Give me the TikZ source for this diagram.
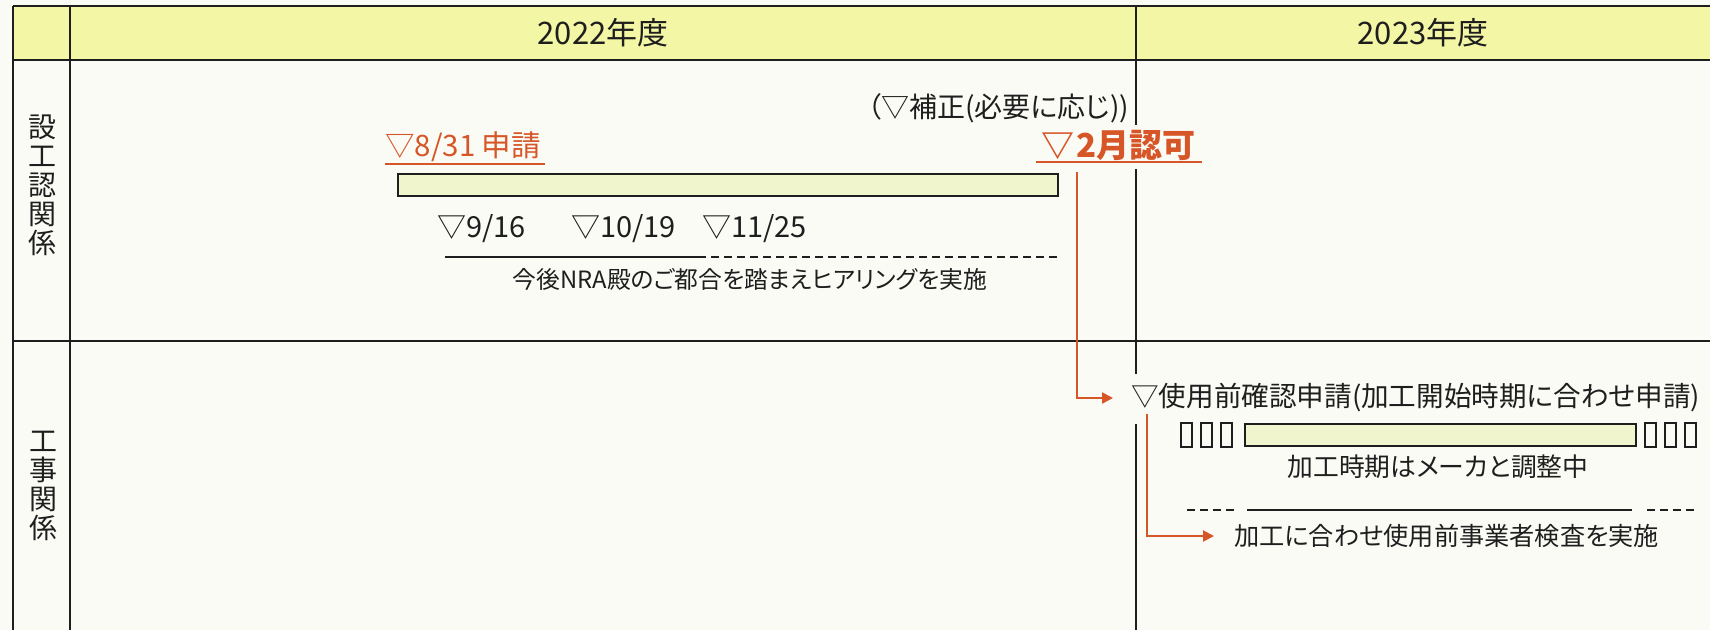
\documentclass[tikz,border=0pt]{standalone}
\usepackage{fontspec}
\setmainfont{Noto Sans CJK JP}[RawFeature={+palt}]
\usetikzlibrary{arrows.meta}
\definecolor{bgc}{RGB}{251,251,246}
\definecolor{hdrc}{RGB}{243,246,164}
\definecolor{barc}{RGB}{241,245,205}
\definecolor{orc}{RGB}{214,86,40}
\definecolor{inkc}{RGB}{30,30,30}
\newcommand{\myfs}[1]{\fontsize{#1}{#1}\selectfont}
\begin{document}
\begin{tikzpicture}[x=1pt,y=-1pt,
  gridline/.style={draw=inkc,line width=2.8pt},
  barbox/.style={draw=inkc,line width=2.2pt,fill=barc},
  minibox/.style={draw=inkc,line width=2pt},
  tline/.style={draw=inkc,line width=2.2pt},
  dline/.style={draw=inkc,line width=2.2pt,dash pattern=on 8pt off 5pt},
  oarrow/.style={draw=orc,line width=2.2pt,-{Triangle[length=11pt,width=11pt]}},
  oline/.style={draw=orc,line width=2pt},
  lbl/.style={inner sep=0pt,text=inkc},
  olbl/.style={inner sep=0pt,text=orc}]
\useasboundingbox (0,0) rectangle (1710,630);
\fill[bgc] (0,0) rectangle (1710,630);
\fill[hdrc] (13,6) rectangle (1710,60);
% grid
\draw[gridline] (13,6) -- (1710,6);
\draw[gridline] (13,60) -- (1710,60);
\draw[gridline] (13,341) -- (1710,341);
\draw[gridline] (13,6) -- (13,630);
\draw[gridline] (70,6) -- (70,630);
\draw[gridline] (1136,6) -- (1136,125);
\draw[gridline] (1136,169) -- (1136,374);
\draw[gridline] (1136,424) -- (1136,630);
% headers
\node[lbl,font=\myfs{31}] (y22) at (603,33) {2022年度};
\node[lbl,font=\myfs{31}] (y23) at (1423,33) {2023年度};
\node[lbl,font=\myfs{28},align=center] (rowA) at (42,185) {設\\[1pt]工\\[1pt]認\\[1pt]関\\[1pt]係};
\node[lbl,font=\myfs{28},align=center] (rowB) at (43,486) {工\\[1pt]事\\[1pt]関\\[1pt]係};
% row A
\node[lbl,font=\myfs{28},anchor=west] (hosei) at (867,108) {（▽補正(必要に応じ))};
\node[olbl,font=\myfs{33}\bfseries,anchor=west] (kyoka) at (1041,145) {▽\hspace{2pt}2月認可};
\draw[oline] (1036,162) -- (1202,162);
\node[olbl,font=\myfs{29.5},anchor=west] (shinsei) at (385,147) {▽8/31 申請};
\draw[oline] (385,164) -- (545,164);
\path[barbox] (398,174) rectangle (1058,196);
\node[lbl,font=\myfs{29},anchor=west] (d1) at (437,229) {▽9/16};
\node[lbl,font=\myfs{29},anchor=west] (d2) at (571,229) {▽10/19};
\node[lbl,font=\myfs{29},anchor=west] (d3) at (702,229) {▽11/25};
\draw[tline] (445,257) -- (698,257);
\draw[dline] (698,257) -- (1058,257);
\node[lbl,font=\myfs{23.8}] (hear) at (750,279) {今後NRA殿のご都合を踏まえヒアリングを実施};
% row B
\node[lbl,font=\myfs{27.6},anchor=west] (t1) at (1131,398) {▽使用前確認申請(加工開始時期に合わせ申請)};
\foreach \xx in {1181,1201,1221,1645,1665,1685}{
  \path[minibox] (\xx,423) rectangle ++(11,24);
}
\path[barbox] (1245,424) rectangle (1636,446);
\node[lbl,font=\myfs{25.8}] (t2) at (1438,467) {加工時期はメーカと調整中};
\draw[dline] (1187,510) -- (1236,510);
\draw[tline] (1247,510) -- (1632,510);
\draw[dline] (1647,510) -- (1697,510);
\node[lbl,font=\myfs{25.2},anchor=west] (t3) at (1234,536) {加工に合わせ使用前事業者検査を実施};
% arrows
\coordinate (a1s) at (1077,172);
\draw[oarrow,shorten >=18pt] (a1s) |- (t1.west);
\coordinate (a2s) at (1147,414);
\draw[oarrow,shorten >=20pt] (a2s) |- (t3.west);
\end{tikzpicture}
\end{document}
